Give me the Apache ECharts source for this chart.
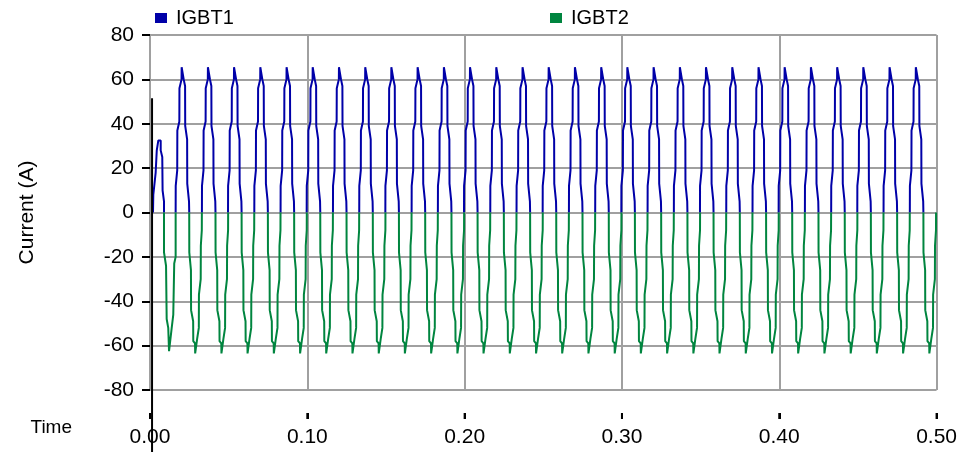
<!DOCTYPE html>
<html><head><meta charset="utf-8">
<script src="https://cdn.jsdelivr.net/npm/echarts@6/dist/echarts.min.js"></script>
<style>html,body{margin:0;padding:0;background:#fff}#c{width:960px;height:452px}</style>
</head><body><div id="c"></div>
<script>
// ---- data ----
const seriesNames = ['IGBT1', 'IGBT2'];
const timeRange = [0, 0.5];
const timeStep = 0.1;
const timeTicks = [0, 0.1, 0.2, 0.3, 0.4, 0.5];
const currentRange = [-80, 80];
const currentStep = 20;

// start time (s) of every full IGBT1 conduction pulse
const pulseStarts = [0.0163, 0.0330, 0.0496, 0.0663, 0.0830, 0.0996, 0.1163, 0.1330, 0.1496, 0.1663,
  0.1830, 0.1996, 0.2163, 0.2330, 0.2496, 0.2663, 0.2830, 0.2996, 0.3163, 0.3330,
  0.3496, 0.3663, 0.3830, 0.3996, 0.4163, 0.4330, 0.4496, 0.4663, 0.4830];

// one IGBT1 pulse: time offsets (ms) and current (A)
const igbt1PulseMs = [0, 0.05, 1.0, 1.08, 2.35, 2.42, 3.75, 3.82, 5.05, 5.12, 6.0, 6.08, 7.3, 7.38, 8.5, 8.63];
const igbt1PulseA  = [0, 12, 19, 37, 41, 56, 60, 65.5, 65.5, 60, 57, 39, 33, 13, 5, 0];

// IGBT2 pulse starts this long after each IGBT1 pulse start (ms)
const igbt2DelayMs = 8.63;
const igbt2PulseMs = [0, 0.05, 1.1, 1.18, 2.5, 2.58, 3.7, 3.78, 4.95, 5.03, 6.1, 6.18, 7.3, 7.38, 8.0, 8.04];
const igbt2PulseA  = [0, -18, -26, -44, -49, -58, -59, -63.5, -63.5, -57, -52, -37, -30, -15, -8, 0];

// start-up transient (time s, current A)
const igbt1StartT = [0.0019, 0.0021, 0.0036, 0.0043, 0.0053, 0.0053, 0.0068, 0.0068, 0.0078, 0.0080, 0.0089, 0.0089];
const igbt1StartA = [0, 8, 18, 28, 28, 32.5, 32.5, 28, 25, 10, 5, 0];
const igbt2StartT = [0.0089, 0.0089, 0.0102, 0.0106, 0.0116, 0.0121, 0.0131, 0.0138, 0.0148, 0.0154, 0.0163, 0.0163];
const igbt2StartA = [0, -18, -24, -48, -52, -62.5, -62.5, -52, -46, -23, -20, 0];

// black cursor line
const cursorTime = 0.0013;
const cursorTopA = 51.5;

// ---- build series ----
function buildSeries(startT, startA, delayMs, pulseMs, pulseA) {
  const out = [];
  startT.forEach((t, i) => out.push([t, startA[i]]));
  out.push([startT[startT.length - 1] + 0.00001, null]);
  pulseStarts.forEach(s => {
    const t0 = s + delayMs / 1000;
    pulseMs.forEach((m, i) => out.push([+(t0 + m / 1000).toFixed(6), pulseA[i]]));
    out.push([t0 + pulseMs[pulseMs.length - 1] / 1000 + 0.00001, null]);
  });
  return out;
}
const igbt1Data = buildSeries(igbt1StartT, igbt1StartA, 0, igbt1PulseMs, igbt1PulseA);
const igbt2Data = buildSeries(igbt2StartT, igbt2StartA, igbt2DelayMs, igbt2PulseMs, igbt2PulseA);

const FONT = 'Liberation Sans, Arial, sans-serif';
const BLUE = '#0000a8';
const GREEN = '#00853f';
const GRID = '#a0a0a0';
const X_OFFSET = 23;

const chart = echarts.init(document.getElementById('c'), null, {renderer: 'canvas'});
chart.setOption({
  animation: false,
  backgroundColor: '#fff',
  textStyle: {fontFamily: FONT},
  legend: [
    {data: [seriesNames[0]], left: 150, top: 3, icon: 'rect', itemWidth: 12, itemHeight: 10,
     textStyle: {fontSize: 20, color: '#000', fontFamily: FONT, padding: [0, 0, 0, 4]}},
    {data: [seriesNames[1]], left: 545, top: 3, icon: 'rect', itemWidth: 12, itemHeight: 10,
     textStyle: {fontSize: 20, color: '#000', fontFamily: FONT, padding: [0, 0, 0, 4]}}
  ],
  grid: {left: 150, right: 22, top: 35, bottom: 62, containLabel: false},
  xAxis: {
    type: 'value', min: timeRange[0], max: timeRange[1], interval: timeStep,
    offset: X_OFFSET,
    name: 'Time', nameLocation: 'start', nameGap: 78,
    nameTextStyle: {fontSize: 19, color: '#000', fontFamily: FONT, verticalAlign: 'top', padding: [5, 0, 0, 0]},
    axisLine: {show: false, onZero: false},
    axisTick: {show: true, length: 6, lineStyle: {color: '#000', width: 2}},
    axisLabel: {fontSize: 21, color: '#000', margin: 14, fontFamily: FONT,
      formatter: v => v.toFixed(2)},
    splitLine: {show: true, lineStyle: {color: GRID, width: 2}}
  },
  yAxis: {
    type: 'value', min: currentRange[0], max: currentRange[1], interval: currentStep,
    name: 'Current (A)', nameLocation: 'middle', nameGap: 112,
    nameTextStyle: {fontSize: 21, color: '#000', fontFamily: FONT},
    axisLine: {show: true, onZero: false, lineStyle: {color: GRID, width: 2}},
    axisTick: {show: true, length: 8, lineStyle: {color: '#000', width: 2}},
    axisLabel: {fontSize: 21, color: '#000', margin: 16, fontFamily: FONT},
    splitLine: {show: true, lineStyle: {color: GRID, width: 2}}
  },
  series: [
    {name: seriesNames[0], type: 'line', data: igbt1Data, showSymbol: false, symbol: 'none',
     connectNulls: false, color: BLUE, lineStyle: {color: BLUE, width: 2}},
    {name: seriesNames[1], type: 'line', data: igbt2Data, showSymbol: false, symbol: 'none',
     connectNulls: false, color: GREEN, lineStyle: {color: GREEN, width: 2}}
  ]
});
const cursorPx = chart.convertToPixel({xAxisIndex: 0, yAxisIndex: 0}, [cursorTime, cursorTopA]);
const axisY = chart.convertToPixel({yAxisIndex: 0}, currentRange[0]) + X_OFFSET;
const graphics = timeTicks.map(t => {
  const x = chart.convertToPixel({xAxisIndex: 0}, t);
  return {type: 'line', z: 90, silent: true,
    shape: {x1: x, y1: axisY, x2: x, y2: axisY + 6},
    style: {stroke: '#000', lineWidth: 2}};
});
graphics.push({type: 'line', z: 100, silent: true,
  shape: {x1: cursorPx[0], y1: cursorPx[1], x2: cursorPx[0], y2: 452},
  style: {stroke: '#000', lineWidth: 2}});
chart.setOption({graphic: graphics});
</script>
</body></html>
